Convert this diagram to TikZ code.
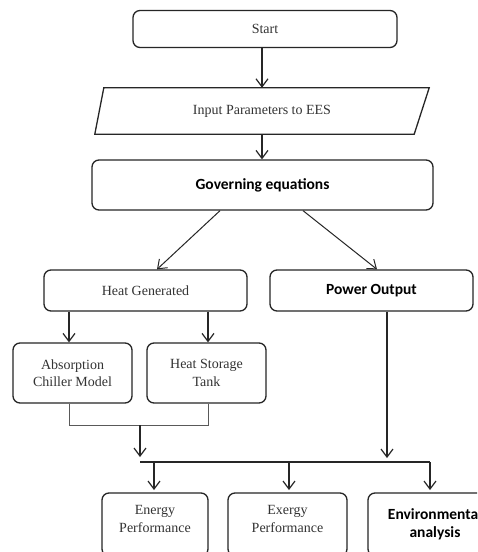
\documentclass[tikz,border=0pt]{standalone}
\usepackage{fontspec}
\setmainfont{Liberation Serif}
\newfontfamily\boldsans{Carlito}
\usetikzlibrary{arrows.meta,calc}
\begin{document}
\begin{tikzpicture}[x=1pt,y=-1pt,
  boxline/.style={draw=black!85, line width=1.3pt, rounded corners=7pt},
  box/.style={boxline, align=center, inner sep=0pt, font=\fontsize{14}{17.5}\selectfont, text=black!80},
  txt/.style={align=center, inner sep=0pt, font=\fontsize{14}{17.5}\selectfont, text=black!80},
  bsans/.style={font=\boldsans\bfseries\fontsize{15.5}{18}\selectfont, text=black},
  arr/.style={draw=black!85, line width=1.2pt, -{Straight Barb[length=8pt,width=12pt]}},
  ln/.style={draw=black!65, line width=1pt}]
\useasboundingbox (0,0) rectangle (477,552);
\clip (0,0) rectangle (477,552);
\fill[white] (0,0) rectangle (477,552);

% top
\node[box, minimum width=264pt, minimum height=37pt] (start) at (265,29) {Start};
\node[txt, minimum width=320pt, minimum height=46pt] (inp) at (262,111) {Input Parameters to EES};
\draw[line width=1.3pt, draw=black!85] ([xshift=2pt]inp.north west) -- ([xshift=7pt]inp.north east)
  -- ([xshift=-8pt]inp.south east) -- ([xshift=-7pt]inp.south west) -- cycle;
\node[box, bsans, minimum width=341pt, minimum height=50pt] (gov) at (262.5,185) {Governing equations};

% middle
\node[box, minimum width=203pt, minimum height=41pt] (hg) at (145.5,290.5) {Heat Generated};
\node[box, bsans, minimum width=203pt, minimum height=41pt] (po) at (371.5,290.5) {Power Output};
\node[box, minimum width=119pt, minimum height=60pt] (abs) at (72.5,373) {Absorption\\Chiller Model};
\node[box, minimum width=119pt, minimum height=60pt] (hst) at (206.5,373) {Heat Storage\\Tank};

% bottom
\node[txt] (en) at (155,519) {Energy\\Performance};
\draw[boxline] ($(en.center)+(-53,-26)$) rectangle ($(en.center)+(53,37)$);
\node[txt] (ex) at (287.5,519) {Exergy\\Performance};
\draw[boxline] ($(ex.center)+(-59.5,-26)$) rectangle ($(ex.center)+(59.5,37)$);
\node[txt, bsans] (env) at (435,524) {Environmental\\analysis};
\draw[boxline] ($(env.center)+(-67,-31)$) rectangle ($(env.center)+(67,32)$);

% connectors
\draw[arr] (inp.north |- start.south) -- (inp.north);
\draw[arr] (inp.south) -- (inp.south |- gov.north);
\draw[arr, line width=1pt] ([xshift=-42.5pt]gov.south) -- ([xshift=11.5pt]hg.north);
\draw[arr, line width=1pt] ([xshift=40.5pt]gov.south) -- ([xshift=5.5pt]po.north);
\draw[arr] ([xshift=-3.5pt]abs.north |- hg.south) -- ([xshift=-3.5pt]abs.north);
\draw[arr] ([xshift=1.5pt]hst.north |- hg.south) -- ([xshift=1.5pt]hst.north);
\draw[ln] ([xshift=-3.5pt]abs.south) -- ++(0,22) -| ([xshift=1.5pt]hst.south);

\coordinate (m1) at (140,425);
\coordinate (m2) at (140,457);
\coordinate (p2) at (387,458);
\coordinate (busL) at (140,462);
\coordinate (busR) at (430,462);
\draw[arr] (m1) -- (m2);
\draw[arr] ([xshift=15.5pt]po.south) -- (p2);
\draw[line width=1.2pt, draw=black!85] (busL) -- (busR);
\draw[arr] (154,462) -- (154,490);
\draw[arr] (289,462) -- (289,490);
\draw[arr] (busR) -- (430,490);
\end{tikzpicture}
\end{document}
